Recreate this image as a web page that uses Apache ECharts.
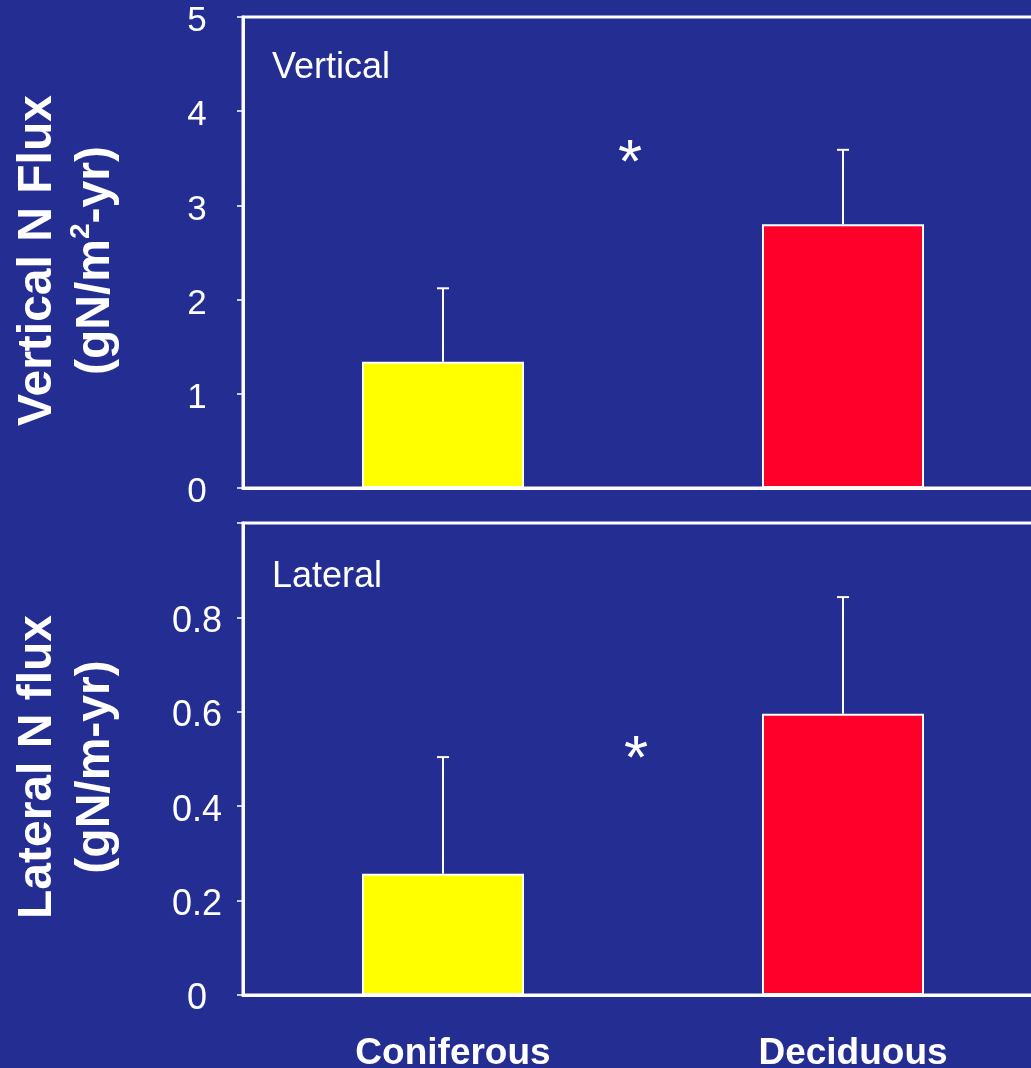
<!DOCTYPE html>
<html>
<head>
<meta charset="utf-8">
<script src="https://cdn.jsdelivr.net/npm/echarts@6/dist/echarts.min.js"></script>
<style>
html,body{margin:0;padding:0;background:#232D92;}
#chart{width:1031px;height:1068px;}
</style>
</head>
<body>
<div id="chart"></div>
<script>
const categories = ['Coniferous', 'Deciduous'];
const verticalMean = [1.34, 2.80];
const verticalErrTop = [2.12, 3.59];
const lateralMean = [0.257, 0.596];
const lateralErrTop = [0.504, 0.843];
const verticalSig = [3.56];
const lateralSig = [0.52];
const verticalTicks = [0, 1, 2, 3, 4, 5];
const lateralTicks = [0, 0.2, 0.4, 0.6, 0.8, 1.0];
const barColors = ['#FFFF00', '#FF002B'];

const FONT = 'Liberation Sans, Arial, sans-serif';
const W = '#FFFFFF';

function errSeries(idx, means, tops) {
  return {
    type: 'custom', xAxisIndex: idx, yAxisIndex: idx, z: 3,
    data: categories.map((c, i) => [i, means[i], tops[i]]),
    renderItem: function (params, api) {
      const b = api.coord([api.value(0), api.value(1)]);
      const t = api.coord([api.value(0), api.value(2)]);
      return { type: 'group', children: [
        { type: 'line', shape: { x1: b[0], y1: b[1], x2: b[0], y2: t[1] }, style: { stroke: W, lineWidth: 2 } },
        { type: 'line', shape: { x1: b[0] - 6, y1: t[1], x2: b[0] + 6, y2: t[1] }, style: { stroke: W, lineWidth: 2 } }
      ]};
    }
  };
}
function sigSeries(idx, sig, dx) {
  const fs = 62;
  return {
    type: 'custom', xAxisIndex: idx, yAxisIndex: idx, z: 4,
    data: sig.map(v => [0, v]),
    renderItem: function (params, api) {
      const a = api.coord([0, api.value(1)]);
      const b = api.coord([1, api.value(1)]);
      return { type: 'text', style: { text: '*', x: (a[0] + b[0]) / 2 + dx, y: a[1] + 0.19 * fs, fill: W,
        font: fs + 'px ' + FONT, align: 'center', verticalAlign: 'middle' } };
    }
  };
}
function yAxis(idx, min, max, interval, fs, name) {
  return {
    type: 'value', gridIndex: idx, min: min, max: max, interval: interval,
    axisLine: { show: true, lineStyle: { color: W, width: 3 } },
    axisTick: { show: true, length: 6, lineStyle: { color: W, width: 1.5 } },
    splitLine: { show: false },
    axisLabel: { align: 'center', margin: 46,
      formatter: function (v) { return (v === max && idx === 1) ? '' : '{n|' + v + '}'; },
      rich: { n: { color: W, fontSize: fs, fontFamily: FONT, padding: [9, 0, 0, 0] } } },
    name: name, nameLocation: 'middle', nameRotate: 90, nameGap: 118,
    nameTextStyle: { padding: [0, 16, 0, 0], rich: {
      t: { fontSize: 48, fontWeight: 'bold', color: W, fontFamily: FONT, lineHeight: 58 },
      s: { fontSize: 28, fontWeight: 'bold', color: W, fontFamily: FONT, verticalAlign: 'top', lineHeight: 30 }
    } }
  };
}

const chart = echarts.init(document.getElementById('chart'), null, { renderer: 'canvas' });
chart.setOption({
  backgroundColor: '#232D92',
  animation: false,
  grid: [
    { left: 243, top: 17, width: 800, height: 471, show: true, borderColor: W, borderWidth: 3,
      backgroundColor: 'transparent', outerBoundsMode: 'none', containLabel: false },
    { left: 243, top: 523, width: 800, height: 472, show: true, borderColor: W, borderWidth: 3,
      backgroundColor: 'transparent', outerBoundsMode: 'none', containLabel: false }
  ],
  xAxis: [
    { type: 'category', gridIndex: 0, data: categories, axisLine: { lineStyle: { color: W, width: 3 } },
      axisTick: { show: false }, axisLabel: { show: false } },
    { type: 'category', gridIndex: 1, data: categories, axisLine: { lineStyle: { color: W, width: 3 } },
      axisTick: { show: false },
      axisLabel: { color: W, fontSize: 37, fontWeight: 'bold', fontFamily: FONT, margin: 40, padding: [0, 0, 0, 20] } }
  ],
  yAxis: [
    yAxis(0, verticalTicks[0], verticalTicks[verticalTicks.length - 1], 1, 35,
      '{t|Vertical N Flux}\n{t|(gN/m}{s|2}{t|-yr)}'),
    yAxis(1, lateralTicks[0], lateralTicks[lateralTicks.length - 1], 0.2, 36,
      '{t|Lateral N flux}\n{t|(gN/m-yr)}')
  ],
  graphic: [
    { type: 'text', left: 272, top: 50, style: { text: 'Vertical', fill: W, font: '36px ' + FONT } },
    { type: 'text', left: 272, top: 559, style: { text: 'Lateral', fill: W, font: '36px ' + FONT } }
  ],
  series: [
    { type: 'bar', xAxisIndex: 0, yAxisIndex: 0, barWidth: 162,
      data: verticalMean.map((v, i) => ({ value: v, itemStyle: { color: barColors[i] } })),
      itemStyle: { borderColor: W, borderWidth: 2 } },
    errSeries(0, verticalMean, verticalErrTop),
    sigSeries(0, verticalSig, -13),
    { type: 'bar', xAxisIndex: 1, yAxisIndex: 1, barWidth: 162,
      data: lateralMean.map((v, i) => ({ value: v, itemStyle: { color: barColors[i] } })),
      itemStyle: { borderColor: W, borderWidth: 2 } },
    errSeries(1, lateralMean, lateralErrTop),
    sigSeries(1, lateralSig, -7)
  ]
});
</script>
</body>
</html>
